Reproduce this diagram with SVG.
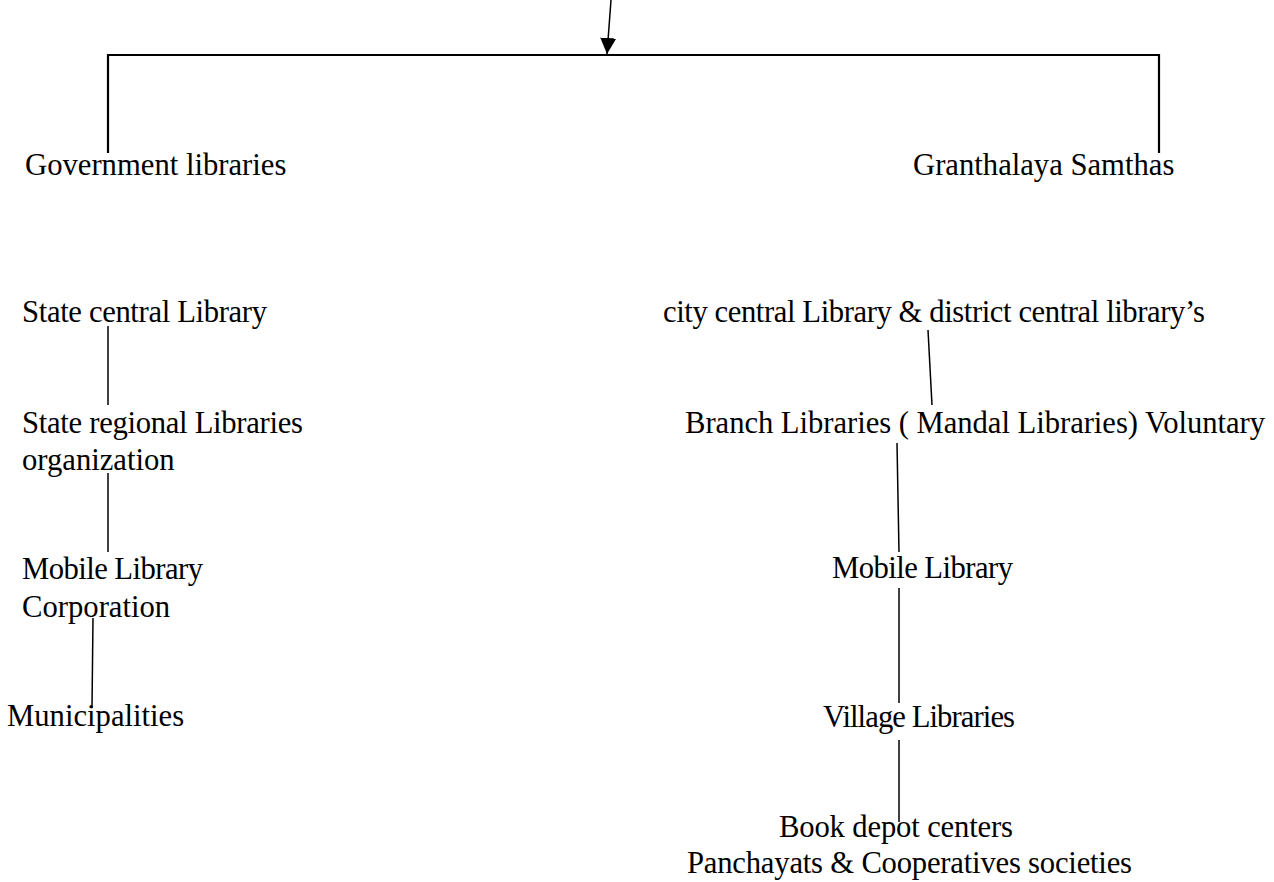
<svg xmlns="http://www.w3.org/2000/svg" width="1274" height="882" viewBox="0 0 1274 882">
<style>
  text { font-family: "Liberation Serif", "Times New Roman", serif; font-size: 30.67px; fill: #000; }
  .ln { stroke: #000; stroke-width: 1.5; fill: none; }
  .bar { stroke: #000; stroke-width: 2.2; fill: none; }
</style>
<defs>
  <marker id="arrow" markerUnits="userSpaceOnUse" markerWidth="16" markerHeight="17" refX="16" refY="8" orient="auto">
    <path d="M0,0 L16,8 L0,16 Z" fill="#000"/>
  </marker>
</defs>
<rect width="1274" height="882" fill="#fff"/>
<g id="connectors">
  <line class="ln" x1="611" y1="0" x2="607" y2="54" marker-end="url(#arrow)"/>
  <polyline class="bar" points="108,153 108,55 1159,55 1159,153"/>
  <line class="ln" x1="108" y1="326" x2="108" y2="405"/>
  <line class="ln" x1="108" y1="473" x2="108" y2="552"/>
  <line class="ln" x1="93" y1="618" x2="92" y2="708"/>
  <line class="ln" x1="928" y1="330" x2="932" y2="405"/>
  <line class="ln" x1="897" y1="443" x2="899" y2="552"/>
  <line class="ln" x1="899" y1="588" x2="899" y2="703"/>
  <line class="ln" x1="899" y1="740" x2="899" y2="822"/>
</g>
<g id="gov"><text x="25" y="175">Government libraries</text></g>
<g id="granthalaya"><text x="913" y="175">Granthalaya Samthas</text></g>
<g id="state-central"><text x="22" y="322" textLength="245">State central Library</text></g>
<g id="state-regional"><text x="22" y="433" textLength="281">State regional Libraries</text><text x="22" y="470">organization</text></g>
<g id="mobile-left"><text x="22" y="579" textLength="181">Mobile Library</text><text x="22" y="617">Corporation</text></g>
<g id="municipalities"><text x="7" y="726">Municipalities</text></g>
<g id="city-central"><text x="663" y="322" textLength="542">city central Library &amp; district central library’s</text></g>
<g id="branch"><text x="685" y="433" textLength="580">Branch Libraries ( Mandal Libraries) Voluntary</text></g>
<g id="mobile-right"><text x="832" y="578" textLength="181">Mobile Library</text></g>
<g id="village"><text x="823" y="727" textLength="192">Village Libraries</text></g>
<g id="book-depot"><text x="779" y="837" textLength="234">Book depot centers</text><text x="687" y="873" textLength="445">Panchayats &amp; Cooperatives societies</text></g>
</svg>
